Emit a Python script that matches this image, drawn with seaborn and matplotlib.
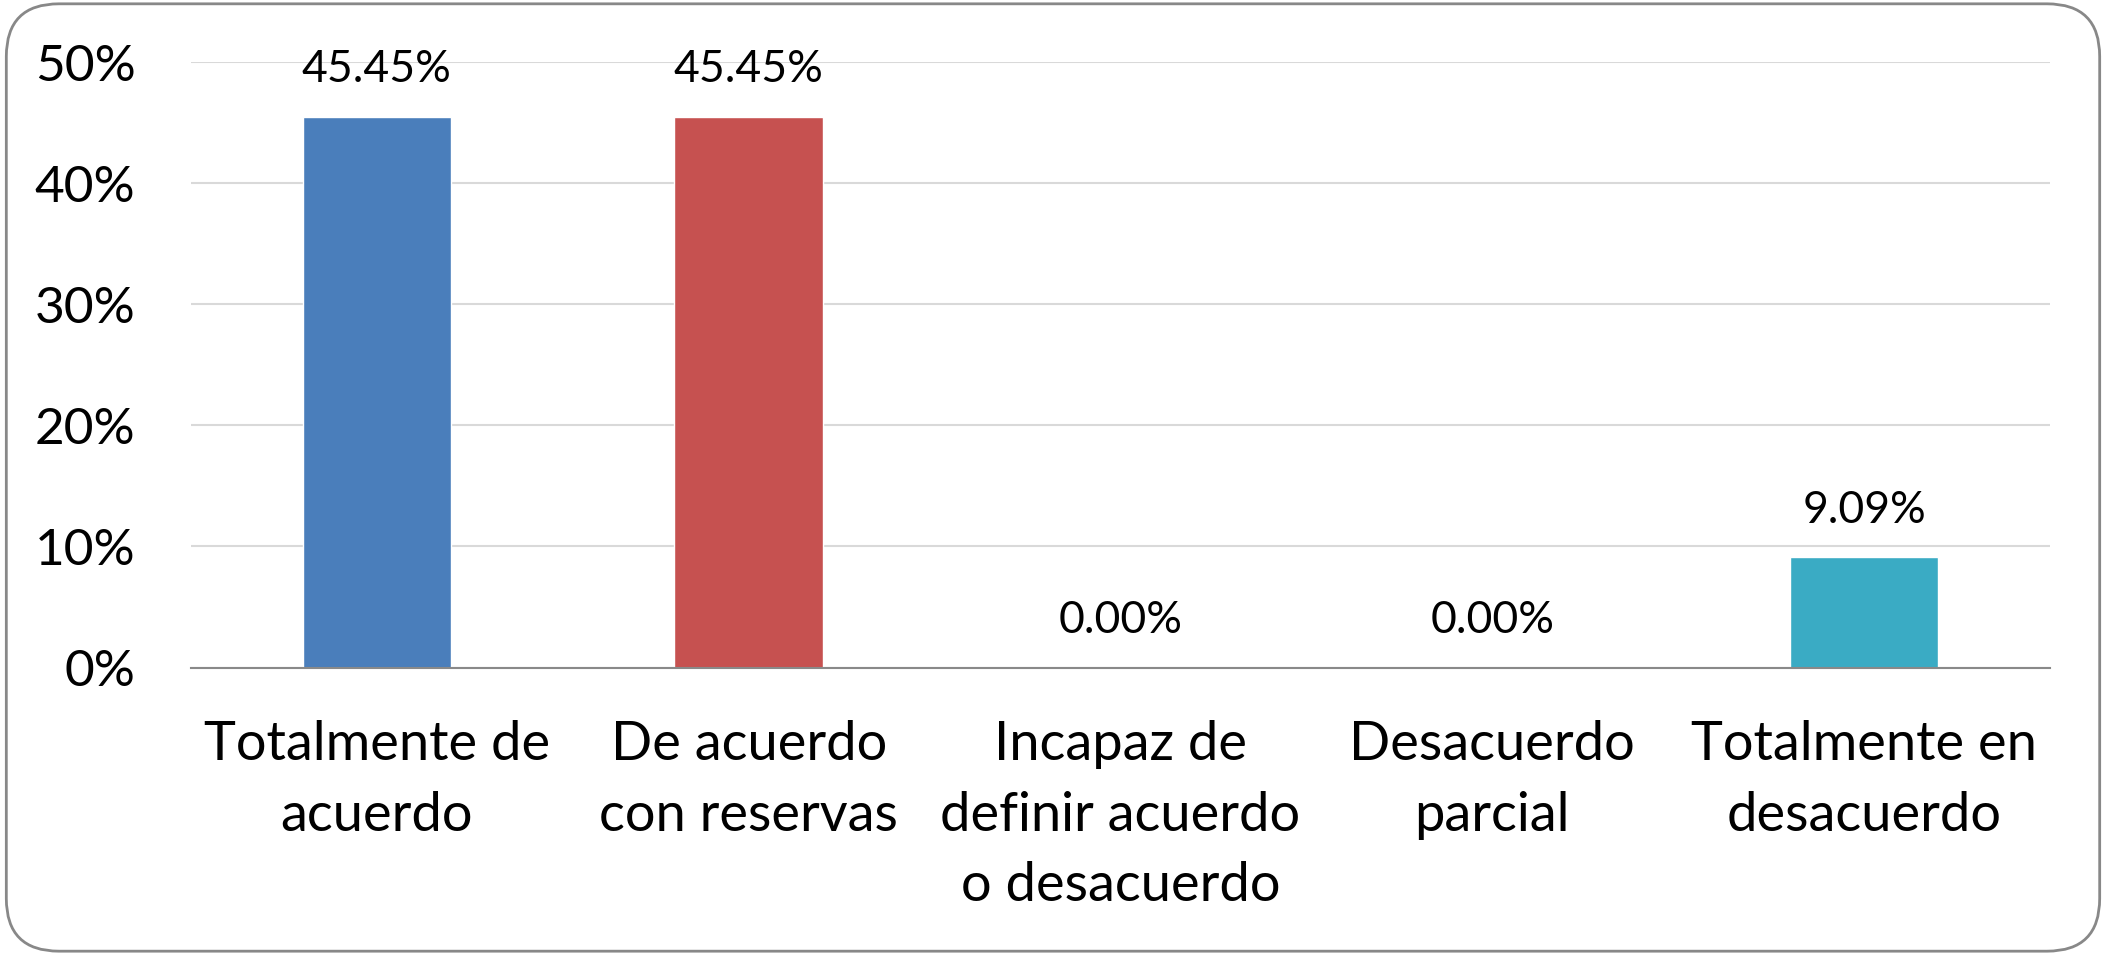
import matplotlib
matplotlib.use("Agg")
import matplotlib.pyplot as plt
import seaborn as sns
from matplotlib.patches import FancyBboxPatch
from matplotlib.ticker import PercentFormatter

# === Data ===
categories = [
    "Totalmente de\nacuerdo",
    "De acuerdo\ncon reservas",
    "Incapaz de\ndefinir acuerdo\no desacuerdo",
    "Desacuerdo\nparcial",
    "Totalmente en\ndesacuerdo",
]
values = [0.4545, 0.4545, 0.0, 0.0, 0.0909]
labels = ["45.45%", "45.45%", "0.00%", "0.00%", "9.09%"]
colors = ["#4A7EBB", "#C65150", "#98B954", "#7F63A1", "#3AABC4"]
y_ticks = [0, 0.1, 0.2, 0.3, 0.4, 0.5]

# === Style ===
sns.set_style("white")
plt.rcParams["font.family"] = ["Lato", "DejaVu Sans"]

fig = plt.figure(figsize=(21.06, 9.55), dpi=100)
ax = fig.add_axes([0.0907, 0.301, 0.8827, 0.634])

sns.barplot(x=categories, y=values, hue=categories, palette=colors,
            width=0.4, legend=False, saturation=1, ax=ax)

# data labels above bars
for i, (v, lab) in enumerate(zip(values, labels)):
    ax.annotate(lab, xy=(i, v), xytext=(0, 34), textcoords="offset points",
                ha="center", va="center", fontsize=32, color="black",
                annotation_clip=False)

ax.set_ylim(0, 0.5)
ax.set_xlim(-0.5, 4.5)
ax.set_yticks(y_ticks)
ax.yaxis.set_major_formatter(PercentFormatter(1.0, decimals=0))
ax.grid(axis="y", color="#D9D9D9", linewidth=1.5)
ax.set_axisbelow(True)
for side in ["top", "right", "left"]:
    ax.spines[side].set_visible(False)
ax.spines["bottom"].set_color("#898989")
ax.spines["bottom"].set_linewidth(1.5)
ax.tick_params(axis="y", length=0, pad=40, labelsize=37, colors="black")
ax.tick_params(axis="x", length=0, pad=38, labelsize=39, colors="black")
for t in ax.get_xticklabels():
    t.set_linespacing(1.53)
ax.set_xlabel("")
ax.set_ylabel("")

# rounded frame around the chart
frame = FancyBboxPatch((0.003, 0.004), 0.994, 0.992,
                       boxstyle="round,pad=0,rounding_size=0.025",
                       transform=fig.transFigure, facecolor="none",
                       edgecolor="#888888", linewidth=2, mutation_aspect=2106 / 955)
fig.patches.append(frame)

fig.savefig("out.png", dpi=100)
